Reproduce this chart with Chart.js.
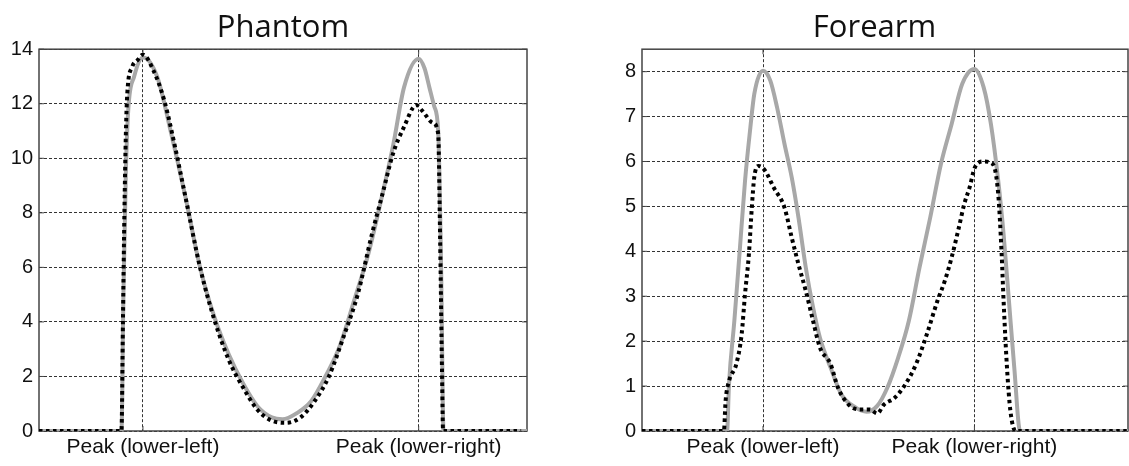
<!DOCTYPE html>
<html>
<head>
<meta charset="utf-8">
<script src="https://cdn.jsdelivr.net/npm/chart.js@4"></script>
<style>
  body { margin: 0; background: #fff; width: 1129px; height: 466px; position: relative; overflow: hidden; }
  canvas { position: absolute; top: 0; }
  #phantom { left: 0; }
  #forearm { left: 621px; }
</style>
</head>
<body>
<canvas id="phantom" width="566" height="466"></canvas>
<canvas id="forearm" width="508" height="466"></canvas>
<script>
'use strict';

var peakLabels = ['Peak (lower-left)', 'Peak (lower-right)'];

// Phantom
var phantomPeaks = [21.3, 77.8];
var phantomYTicks = [0, 2, 4, 6, 8, 10, 12, 14];
var phantomSolidX = [0, 16.9, 17.3, 17.8, 18.3, 19.5, 21.3, 24.2, 27.1, 30.1, 33.0, 35.9, 38.9, 41.8, 44.8, 47.7, 49.9, 52.8, 55.8, 58.7, 61.6, 64.6, 67.5, 70.4, 72.6, 74.8, 77.8, 79.0, 80.0, 81.0, 81.8, 82.4, 82.9, 100];
var phantomSolidY = [0, 0, 5, 9.5, 11.8, 13.0, 13.7, 13.0, 10.9, 8.5, 6.0, 4.2, 2.8, 1.75, 0.9, 0.5, 0.43, 0.65, 1.1, 2.0, 3.1, 4.8, 6.5, 8.7, 10.5, 12.6, 13.65, 13.3, 12.6, 11.9, 11.0, 6, 0, 0];
var phantomDotX = [0, 16.9, 17.2, 17.5, 17.8, 18.1, 19.1, 20.2, 21.3, 23.5, 25.7, 27.9, 30.1, 33.0, 35.9, 38.9, 41.8, 44.8, 47.7, 50.6, 53.6, 56.5, 59.4, 62.4, 65.3, 68.2, 70.4, 72.6, 74.8, 77.3, 78.5, 80.7, 81.8, 82.2, 82.6, 82.8, 98.8];
var phantomDotY = [0, 0, 4, 8, 10.9, 12.4, 13.35, 13.6, 13.8, 13.2, 12.1, 10.4, 8.5, 6.0, 4.1, 2.6, 1.6, 0.77, 0.38, 0.3, 0.5, 1.1, 2.0, 3.45, 5.0, 7.2, 8.7, 10.2, 11.15, 11.95, 11.75, 11.3, 10.9, 7, 2, 0, 0];

// Forearm
var forearmPeaks = [24.9, 68.4];
var forearmYTicks = [0, 1, 2, 3, 4, 5, 6, 7, 8];
var forearmSolidX = [0, 17.5, 17.9, 19.0, 20.1, 21.2, 22.3, 23.1, 24.9, 26.4, 27.8, 29.3, 30.8, 32.2, 33.7, 35.2, 36.6, 38.8, 41.0, 44.0, 46.2, 48.4, 50.5, 52.7, 54.9, 57.1, 59.3, 61.5, 63.7, 65.9, 68.4, 70.3, 71.8, 73.3, 74.4, 75.5, 76.6, 77.8, 100];
var forearmSolidY = [0, 0, 1.04, 2.45, 4.0, 5.57, 6.76, 7.5, 8.02, 7.8, 7.2, 6.4, 5.65, 4.75, 3.64, 2.75, 2.08, 1.41, 0.82, 0.52, 0.43, 0.56, 0.97, 1.63, 2.45, 3.64, 4.75, 5.94, 6.83, 7.73, 8.06, 7.65, 6.83, 5.57, 4.38, 2.9, 1.41, 0, 0];
var forearmDotX = [0, 16.85, 17.2, 17.9, 19.4, 20.5, 21.2, 22.0, 22.6, 23.1, 24.0, 25.3, 27.1, 29.3, 30.8, 32.2, 33.7, 35.2, 36.6, 38.8, 40.3, 42.5, 44.7, 46.9, 48.4, 49.8, 52.0, 54.2, 56.4, 58.6, 60.8, 62.3, 63.7, 65.2, 66.3, 67.4, 68.5, 70.3, 72.2, 73.3, 74.0, 74.4, 75.1, 75.8, 76.9, 100];
var forearmDotY = [0, 0, 0.67, 1.11, 1.49, 2.15, 3.05, 3.94, 4.98, 5.65, 5.9, 5.8, 5.42, 4.98, 4.31, 3.71, 3.12, 2.45, 1.86, 1.49, 0.97, 0.59, 0.48, 0.48, 0.39, 0.59, 0.74, 1.04, 1.49, 2.15, 2.9, 3.34, 3.86, 4.53, 5.05, 5.42, 5.87, 6.0, 5.94, 5.27, 3.94, 2.9, 1.41, 0.45, 0, 0];

var toPoints = function(xs, ys) {
    return xs.map(function(x, i) { return {x: x, y: ys[i]}; });
};

// box around the plot plus small inward ticks, matlab style
var framePlugin = {
    id: 'frame',
    beforeDatasetsDraw: function(chart) {
        var a = chart.chartArea, ctx = chart.ctx;
        var xs = chart.scales.x, ys = chart.scales.y;
        ctx.save();
        ctx.strokeStyle = '#444';
        ctx.lineWidth = 1.5;
        ctx.setLineDash([]);
        ctx.strokeRect(a.left, a.top, a.right - a.left, a.bottom - a.top);
        ctx.lineWidth = 1;
        ctx.beginPath();
        ys.ticks.forEach(function(t) {
            var p = ys.getPixelForValue(t.value);
            ctx.moveTo(a.left, p); ctx.lineTo(a.left + 5, p);
            ctx.moveTo(a.right, p); ctx.lineTo(a.right - 5, p);
        });
        xs.ticks.forEach(function(t) {
            var p = xs.getPixelForValue(t.value);
            ctx.moveTo(p, a.top); ctx.lineTo(p, a.top + 5);
            ctx.moveTo(p, a.bottom); ctx.lineTo(p, a.bottom - 5);
        });
        ctx.stroke();
        ctx.restore();
    }
};

var plotChart = function(ctx, opts) {
    return new Chart(ctx, {
        type: 'line',
        data: {
            datasets: [
                {
                    data: toPoints(opts.dotX, opts.dotY),
                    borderColor: '#000',
                    borderWidth: 4,
                    borderDash: [3.5, 3.5],
                    borderCapStyle: 'butt',
                    pointRadius: 0,
                    cubicInterpolationMode: 'monotone',
                    fill: false
                },
                {
                    data: toPoints(opts.solidX, opts.solidY),
                    borderColor: '#a8a8a8',
                    borderWidth: 4,
                    pointRadius: 0,
                    cubicInterpolationMode: 'monotone',
                    fill: false
                }
            ]
        },
        options: {
            responsive: false,
            animation: false,
            layout: { padding: { left: 0, right: opts.padRight, top: 0, bottom: 0 } },
            plugins: {
                legend: { display: false },
                tooltip: { enabled: false },
                title: {
                    display: true,
                    text: opts.title,
                    fullSize: opts.fullTitle,
                    color: '#111',
                    font: { family: 'Open Sans', size: 31, weight: 'normal', lineHeight: 1.2 },
                    padding: { top: 10, bottom: 2 }
                }
            },
            scales: {
                x: {
                    type: 'linear',
                    min: 0,
                    max: 100,
                    afterBuildTicks: function(scale) {
                        scale.ticks = opts.peaks.map(function(v) { return {value: v}; });
                    },
                    afterFit: function(scale) { scale.height = 35; },
                    ticks: {
                        autoSkip: false,
                        maxRotation: 0,
                        padding: 4,
                        color: '#111',
                        font: { family: 'Liberation Sans', size: 21 },
                        callback: function(v, i) { return peakLabels[i]; }
                    },
                    grid: { color: '#333', lineWidth: 1, drawTicks: false },
                    border: { display: false, dash: [3, 2] }
                },
                y: {
                    min: 0,
                    max: opts.yMax,
                    afterBuildTicks: function(scale) {
                        scale.ticks = opts.yTicks.map(function(v) { return {value: v}; });
                    },
                    afterFit: function(scale) { scale.width = opts.yWidth; },
                    ticks: {
                        padding: 6,
                        color: '#111',
                        font: { family: 'Liberation Sans', size: 20 }
                    },
                    grid: { color: '#333', lineWidth: 1, drawTicks: false },
                    border: { display: false, dash: [3, 2] }
                }
            }
        },
        plugins: [framePlugin]
    });
};

plotChart(document.getElementById('phantom').getContext('2d'), {
    title: 'Phantom', fullTitle: false, padRight: 39, yWidth: 39, yMax: 14,
    yTicks: phantomYTicks, peaks: phantomPeaks,
    solidX: phantomSolidX, solidY: phantomSolidY, dotX: phantomDotX, dotY: phantomDotY
});

plotChart(document.getElementById('forearm').getContext('2d'), {
    title: 'Forearm', fullTitle: true, padRight: 1, yWidth: 21, yMax: 8.5,
    yTicks: forearmYTicks, peaks: forearmPeaks,
    solidX: forearmSolidX, solidY: forearmSolidY, dotX: forearmDotX, dotY: forearmDotY
});
</script>
</body>
</html>
